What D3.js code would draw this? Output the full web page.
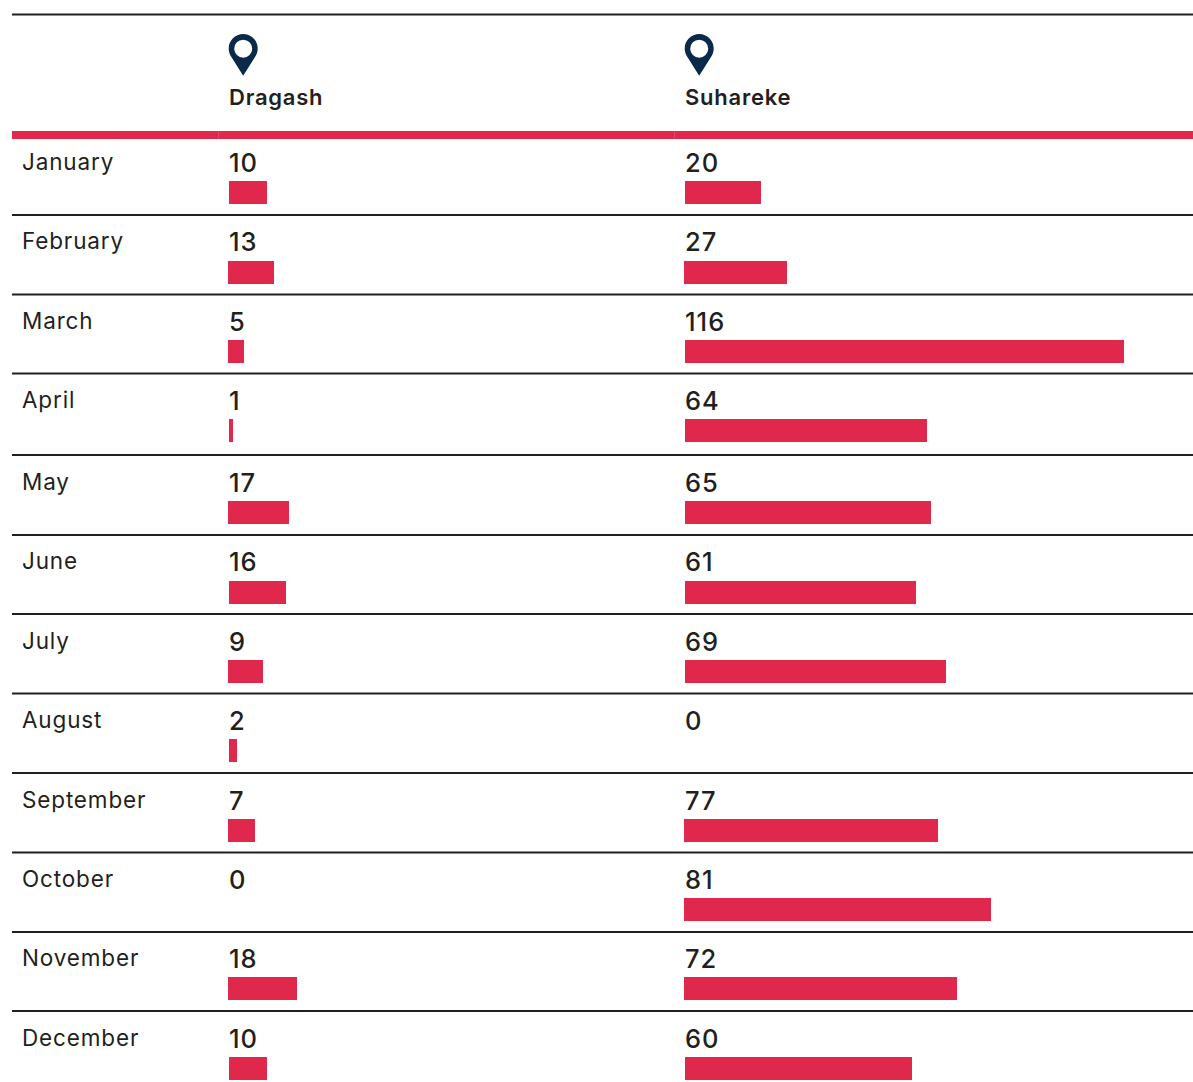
<!DOCTYPE html>
<html><head><meta charset="utf-8">
<script src="https://cdn.jsdelivr.net/npm/d3@7"></script>
<style>html,body{margin:0;background:#fff}svg{display:block}text{font-family:"Inter",sans-serif;fill:#231f20}</style>
</head><body><svg id="c" width="1193" height="1082"></svg>
<script>
const months=["January","February","March","April","May","June","July","August","September","October","November","December"];
const places=["Dragash","Suhareke"];
const dragashLabels=[10,13,5,1,17,16,9,2,7,0,18,10];
const suharekeLabels=[20,27,116,64,65,61,69,0,77,81,72,60];
// bar lengths (they do not always agree with the printed numbers)
const dragashBars=[10,12.15,4.2,1.06,16.1,15.06,9.25,2.1,7.13,0,18.2,10];
const suharekeBars=[20,27.2,116,63.95,65,61.05,69,0,67.1,81.1,72.1,60];

const svg=d3.select("#c");
const red="#e0284c", ink="#231f20", navy="#0b2a4a";
const ruleY=d3.scaleOrdinal().domain(months.slice(1)).range([215,294.5,373.5,455,535,614,693.5,773,852.5,932,1011]);
const textY=d3.scaleOrdinal().domain(months).range([136,215,295,374,456,535,615,694,774,853,932,1012]);
const barY=d3.scaleOrdinal().domain(months).range([181,261,340,419,501,581,660,739,819,898,977,1057]);
const w=d3.scaleLinear().domain([0,116]).range([0,439]);
const colX=d3.scaleOrdinal().domain(places).range([229,685]);
const nudge=[
 d3.scaleOrdinal().domain(months).range([0,-1,-1,0,-1,0,-1,0,-1,0,-1,0]),
 d3.scaleOrdinal().domain(months).range([0,-1,0,0,0,0,0,0,-1,-1,-1,0])];

svg.append("line").attr("x1",12).attr("x2",1193).attr("y1",14.5).attr("y2",14.5).attr("stroke",ink).attr("stroke-width",2);
svg.append("rect").attr("x",12).attr("y",131).attr("width",1181).attr("height",8).attr("fill",red);
svg.selectAll(".seam").data([218,674]).join("rect").attr("class","seam")
 .attr("x",d=>d).attr("y",131).attr("width",1).attr("height",8).attr("fill","#fff").attr("opacity",0.15);

svg.selectAll(".rule").data(months.slice(1)).join("line").attr("class","rule")
 .attr("x1",12).attr("x2",1193).attr("y1",d=>ruleY(d)).attr("y2",d=>ruleY(d)).attr("stroke",ink).attr("stroke-width",1.8);

svg.selectAll(".m").data(months).join("text").attr("class","m")
 .attr("x",22).attr("y",d=>textY(d)+34).attr("font-size",22.5).attr("letter-spacing",0.85).text(d=>d);

places.forEach((p,pi)=>{
 const x0=colX(p);
 svg.append("path").attr("transform",`translate(${x0-0.3},34)`).attr("fill-rule","evenodd").attr("fill",navy)
  .attr("d","M14.500 0C6.500 0 0 6.500 0 14.500C0 17.800 1.100 20.900 3 23.400L14.500 41.700L26 23.400C27.900 20.900 29 17.800 29 14.500C29 6.500 22.500 0 14.500 0ZM14.500 5.700A9 9 0 1 1 14.500 23.700A9 9 0 1 1 14.500 5.700Z");
 svg.append("text").attr("x",x0).attr("y",105).attr("font-size",22).attr("font-weight",600).attr("letter-spacing",0.75).text(p);
 const labels=pi?suharekeLabels:dragashLabels, bars=pi?suharekeBars:dragashBars;
 svg.selectAll(".v"+pi).data(months).join("text").attr("class","v"+pi)
  .attr("x",x0).attr("y",d=>textY(d)+36).attr("font-size",25.5).attr("font-weight",500).attr("letter-spacing",1).text((d,i)=>labels[i]);
 svg.selectAll(".b"+pi).data(months).join("rect").attr("class","b"+pi)
  .attr("x",d=>x0+nudge[pi](d)).attr("y",d=>barY(d)).attr("height",23).attr("width",(d,i)=>Math.round(w(bars[i]))).attr("fill",red);
});
</script></body></html>
